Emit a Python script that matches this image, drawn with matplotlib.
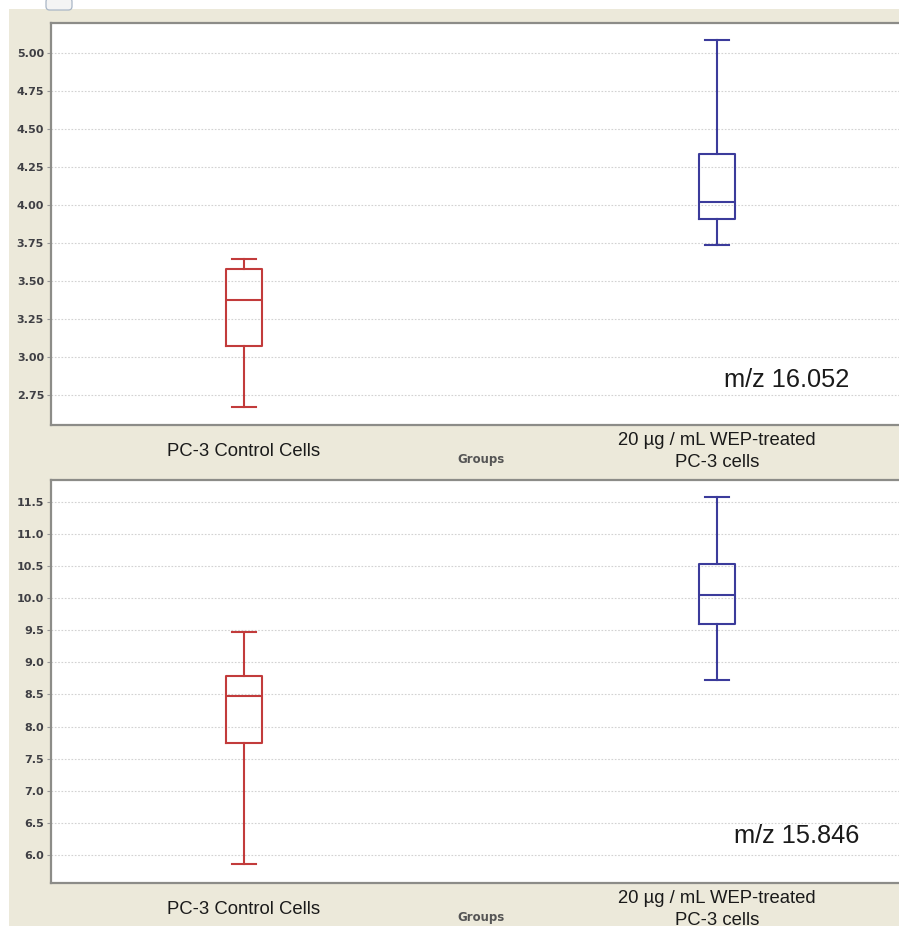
import numpy as np
import matplotlib
matplotlib.use("Agg")
import matplotlib.pyplot as plt
from matplotlib.patches import Rectangle, FancyBboxPatch

# categories
groups = ["PC-3 Control Cells", "20 µg / mL WEP-treated\nPC-3 cells"]
box_colors = ["#c23b3b", "#3b3b9b"]

# m/z 16.052 (upper panel)
mz1_label = "m/z 16.052"
mz1_whislo = [2.67, 3.74]
mz1_q1 = [3.07, 3.91]
mz1_med = [3.375, 4.02]
mz1_q3 = [3.58, 4.335]
mz1_whishi = [3.645, 5.085]
mz1_ticks = [2.75, 3.00, 3.25, 3.50, 3.75, 4.00, 4.25, 4.50, 4.75, 5.00]

# m/z 15.846 (lower panel)
mz2_label = "m/z 15.846"
mz2_whislo = [5.86, 8.73]
mz2_q1 = [7.745, 9.59]
mz2_med = [8.47, 10.05]
mz2_q3 = [8.785, 10.535]
mz2_whishi = [9.465, 11.57]
mz2_ticks = [6.0, 6.5, 7.0, 7.5, 8.0, 8.5, 9.0, 9.5, 10.0, 10.5, 11.0, 11.5]

beige = "#ece9da"
spine_col = "#8c8c88"

fig = plt.figure(figsize=(8.99, 9.26), dpi=100)
fig.patch.set_facecolor(beige)
# white margins at top and left edge of the screenshot
fig.patches.append(Rectangle((0, 1 - 9 / 926), 1, 9 / 926, transform=fig.transFigure,
                             facecolor="white", edgecolor="none", zorder=0))
fig.patches.append(Rectangle((0, 0), 9 / 899, 1, transform=fig.transFigure,
                             facecolor="white", edgecolor="none", zorder=0))
fig.patches.append(FancyBboxPatch((46 / 899, 1 - 10 / 926), 26 / 899, 12 / 926,
                                  boxstyle="round,pad=0,rounding_size=0.004",
                                  transform=fig.transFigure, facecolor="#f4f4f4",
                                  edgecolor="#a9b6c6", lw=0.9, zorder=1))

ax_w = 859 / 899
ax1 = fig.add_axes([51 / 899, 1 - 425 / 926, ax_w, 402 / 926])
ax2 = fig.add_axes([51 / 899, 1 - 883 / 926, ax_w, 403 / 926])


def draw_panel(ax, whislo, q1, med, q3, whishi, ticks, ylim, fmt, label, label_xy):
    stats = []
    for i in range(len(groups)):
        stats.append(dict(whislo=whislo[i], q1=q1[i], med=med[i], q3=q3[i],
                          whishi=whishi[i], fliers=[]))
    for i, st in enumerate(stats):
        c = box_colors[i]
        ax.bxp([st], positions=[i + 1], widths=0.078, capwidths=0.049,
               showfliers=False, manage_ticks=False,
               boxprops=dict(color=c, lw=1.5),
               medianprops=dict(color=c, lw=1.5),
               whiskerprops=dict(color=c, lw=1.5),
               capprops=dict(color=c, lw=1.5))
    ax.set_xlim(1 - 193 / 473, 2 + 193 / 473)
    ax.set_ylim(*ylim)
    ax.set_yticks(ticks)
    ax.set_yticklabels([fmt % t for t in ticks])
    ax.yaxis.grid(True, color="#d2d2d2", lw=0.8, linestyle=(0, (1.5, 1.5)))
    ax.set_axisbelow(True)
    ax.tick_params(axis="y", length=3, width=0.8, color="#999999", pad=2,
                   labelsize=8, labelcolor="#3f3f44")
    for t in ax.get_yticklabels():
        t.set_fontweight("bold")
    ax.set_xticks([1, 2])
    ax.set_xticklabels(groups, fontsize=13.3, color="#1a1a1a", family="Liberation Sans",
                       linespacing=1.38)
    ax.tick_params(axis="x", length=0, pad=19)
    for t in ax.get_xticklabels():
        t.set_verticalalignment("center")
    for s in ["left", "top", "bottom"]:
        ax.spines[s].set_color(spine_col)
        ax.spines[s].set_linewidth(1.6)
    ax.spines["right"].set_visible(False)
    ax.annotate("Groups", xy=(0.5, 0), xycoords="axes fraction",
                xytext=(0, -34), textcoords="offset pixels", ha="center", va="center",
                fontsize=8.5, fontweight="bold", color="#555555")
    ax.text(label_xy[0], label_xy[1], label, ha="center", va="center",
            fontsize=18.3, color="#1a1a1a", family="Liberation Sans")


draw_panel(ax1, mz1_whislo, mz1_q1, mz1_med, mz1_q3, mz1_whishi, mz1_ticks,
           (2.553, 5.197), "%.2f", mz1_label, (2.148, 2.849))
draw_panel(ax2, mz2_whislo, mz2_q1, mz2_med, mz2_q3, mz2_whishi, mz2_ticks,
           (5.564, 11.838), "%.1f", mz2_label, (2.169, 6.296))

fig.savefig("out.png", dpi=100, facecolor=fig.get_facecolor())
